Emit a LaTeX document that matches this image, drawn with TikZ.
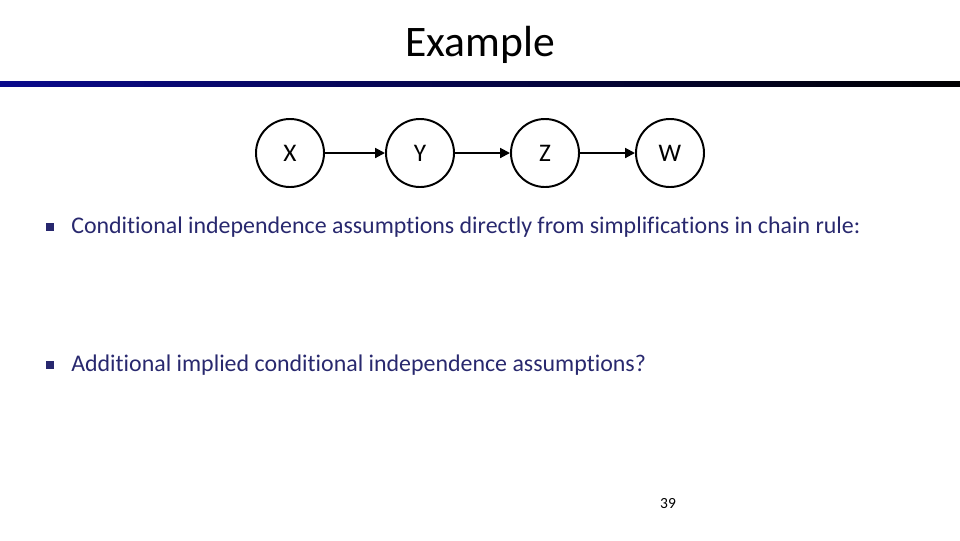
\documentclass[tikz,border=0pt]{standalone}
\usepackage{fontspec}
\setmainfont{Carlito}[RawFeature=-liga]
\usetikzlibrary{arrows.meta}
\definecolor{navy}{RGB}{40,40,110}
\definecolor{barblue}{RGB}{10,10,140}
\tikzset{
  var/.style={circle, draw, line width=1.4pt, minimum size=1.7cm, font=\fontsize{18}{21}\selectfont},
  link/.style={-{Triangle[length=7pt,width=7pt]}, line width=1.4pt},
  bullet/.style={anchor=west, text=navy, font=\fontsize{17}{20}\selectfont, inner sep=0pt}
}
\begin{document}
\begin{tikzpicture}[x=0.025cm, y=-0.025cm]
\useasboundingbox (0,0) rectangle (960,540);
\node (title) at (480,45) {\fontsize{31}{36}\selectfont Example};
\shade[left color=barblue, right color=black] (0,81) rectangle (960,86);
\node (x) [var] at (290,153) {X};
\node (y) [var] at (420,153) {Y};
\node (z) [var] at (545,153) {Z};
\node (w) [var] at (670,153) {W};
\draw [link] (x) -- (y);
\draw [link] (y) -- (z);
\draw [link] (z) -- (w);
\node (b1) [bullet] at (71,227) {Conditional independence assumptions directly from simplifications in chain rule:};
\node (b2) [bullet] at (71,365) {Additional implied conditional independence assumptions?};
\fill [navy] (46,223) rectangle (54,231);
\fill [navy] (46,361) rectangle (54,369);
\node (page) at (668,504) {\fontsize{11}{13}\selectfont 39};
\end{tikzpicture}
\end{document}
